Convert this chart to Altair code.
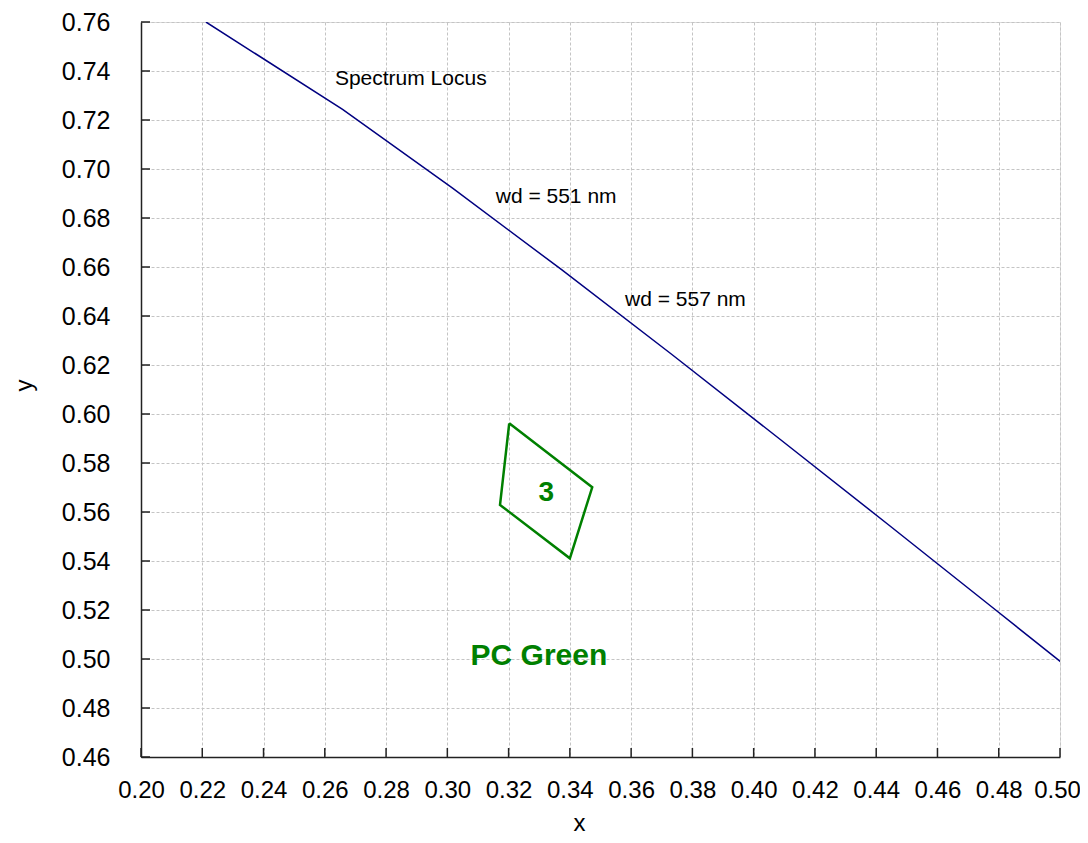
import altair as alt
import pandas as pd

# Spectrum locus
locus_x = [0.2212, 0.2658, 0.3016, 0.3373, 0.3731, 0.4087, 0.4441, 0.4788, 0.5125]
locus_y = [0.7600, 0.7243, 0.6923, 0.6589, 0.6245, 0.5896, 0.5547, 0.5202, 0.4866]

# PC Green region "3"
quad_x = [0.3202, 0.3473, 0.3400, 0.3172, 0.3202]
quad_y = [0.5962, 0.5701, 0.5411, 0.5629, 0.5962]

x_ticks = [0.20, 0.22, 0.24, 0.26, 0.28, 0.30, 0.32, 0.34, 0.36, 0.38, 0.40, 0.42, 0.44, 0.46, 0.48, 0.50]
y_ticks = [0.46, 0.48, 0.50, 0.52, 0.54, 0.56, 0.58, 0.60, 0.62, 0.64, 0.66, 0.68, 0.70, 0.72, 0.74, 0.76]

note_text = ["Spectrum Locus", "wd = 551 nm", "wd = 557 nm"]
note_x = [0.2633, 0.3158, 0.3580]
note_y = [0.7367, 0.6887, 0.6465]

big_text = ["3", "PC Green"]
big_x = [0.3323, 0.3299]
big_y = [0.5676, 0.5012]
big_size = [28, 30]

W, H = 919, 735
FONT = "Liberation Sans"

xs = alt.Scale(domain=[0.20, 0.50], nice=False, zero=False)
ys = alt.Scale(domain=[0.46, 0.76], nice=False, zero=False)

locus_df = pd.DataFrame({"x": locus_x, "y": locus_y, "o": list(range(len(locus_x)))})
quad_df = pd.DataFrame({"x": quad_x, "y": quad_y, "o": list(range(len(quad_x)))})
note_df = pd.DataFrame({"t": note_text, "x": note_x, "y": note_y})
big_df = pd.DataFrame({"t": big_text, "x": big_x, "y": big_y, "s": big_size})
xt_df = pd.DataFrame({"v": x_ticks})
yt_df = pd.DataFrame({"v": y_ticks})

x_axis = alt.Axis(values=x_ticks, format=".2f", title="x", grid=True,
                  gridDash=[3, 2], gridColor="#c4c4c4", gridWidth=1,
                  ticks=False, labelPadding=21, labelFontSize=24, labelFont=FONT,
                  labelOffset={"expr": "datum.value > 0.499 ? -3 : 0"},
                  labelColor="#000000", titleFontSize=24, titleFont=FONT,
                  titleFontWeight="normal", titleColor="#000000",
                  titleX=438, titleY=66, titleBaseline="middle", titleAlign="center",
                  domainColor="#222222", domainWidth=1.5, labelFlush=False)
y_axis = alt.Axis(values=y_ticks, format=".2f", title="y", grid=True,
                  gridDash=[3, 2], gridColor="#c4c4c4", gridWidth=1,
                  ticks=False, labelPadding=31, labelFontSize=25, labelFont=FONT,
                  labelColor="#000000", titleFontSize=24, titleFont=FONT,
                  titleFontWeight="normal", titleColor="#000000",
                  titleX=-117, titleY=363, titleBaseline="middle", titleAlign="center",
                  titleAngle=-90,
                  domainColor="#222222", domainWidth=1.5, labelFlush=False)

locus = alt.Chart(locus_df).mark_line(color="#000080", strokeWidth=1.5, clip=True).encode(
    x=alt.X("x:Q", scale=xs, axis=x_axis),
    y=alt.Y("y:Q", scale=ys, axis=y_axis),
    order="o:Q",
)

quad = alt.Chart(quad_df).mark_line(color="#008000", strokeWidth=2.5, clip=True).encode(
    x=alt.X("x:Q", scale=xs),
    y=alt.Y("y:Q", scale=ys),
    order="o:Q",
)

notes = alt.Chart(note_df).mark_text(align="left", baseline="middle", fontSize=21,
                                     font=FONT, color="#000000").encode(
    x=alt.X("x:Q", scale=xs),
    y=alt.Y("y:Q", scale=ys),
    text="t:N",
)

bigs = alt.Chart(big_df).mark_text(align="center", baseline="middle", fontWeight="bold",
                                   font=FONT, color="#008000").encode(
    x=alt.X("x:Q", scale=xs),
    y=alt.Y("y:Q", scale=ys),
    text="t:N",
    size=alt.Size("s:Q", scale=None, legend=None),
)

ytick_marks = alt.Chart(yt_df).mark_rule(color="#222222", strokeWidth=1.5).encode(
    y=alt.Y("v:Q", scale=ys),
    x=alt.value(0),
    x2=alt.value(9),
)
xtick_marks = alt.Chart(xt_df).mark_rule(color="#222222", strokeWidth=1.5).encode(
    x=alt.X("v:Q", scale=xs),
    y=alt.value(H),
    y2=alt.value(H - 9),
)

chart = alt.layer(locus, quad, notes, bigs, ytick_marks, xtick_marks).properties(
    width=W, height=H,
    autosize=alt.AutoSizeParams(type="none"),
    padding={"left": 133, "top": 14, "right": 20, "bottom": 78},
).configure_view(stroke="#9a9a9a", strokeWidth=1).configure(background="#ffffff")

chart.save("out.html", embed_options={"renderer": "svg", "actions": False})
